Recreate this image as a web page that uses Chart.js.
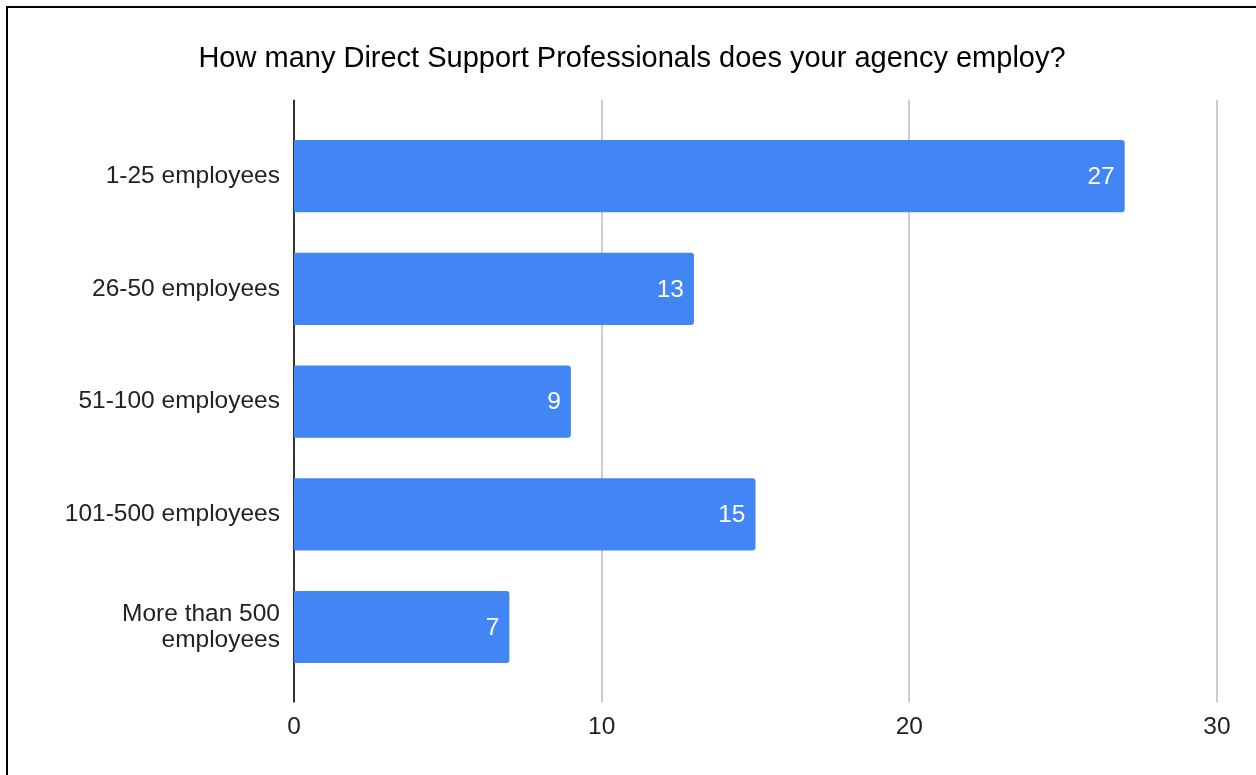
<!DOCTYPE html>
<html>
<head>
<meta charset="utf-8">
<script src="https://cdn.jsdelivr.net/npm/chart.js@4.4.0/dist/chart.umd.min.js"></script>
<style>
    html, body { margin: 0; padding: 0; background: #fff; overflow: hidden; }
    #frame {
        position: absolute; left: 6px; top: 6px;
        width: 1300px; height: 900px;
        border: 2px solid #000;
    }
    #chart { position: absolute; left: 0; top: 0; }
</style>
</head>
<body>
<div id="frame"></div>
<canvas id="chart" width="1256" height="775"></canvas>
<script>
// Data
const categories = ['1-25 employees', '26-50 employees', '51-100 employees', '101-500 employees', ['More than 500', 'employees']];
const responses = [27, 13, 9, 15, 7];
const xTicks = [0, 10, 20, 30];

const FONT = "'Liberation Sans', Arial, sans-serif";

// grid lines that run a bit past the category band, like the original
const gridPlugin = {
    id: 'longGrid',
    beforeDatasetsDraw(chart) {
        const { ctx, chartArea, scales } = chart;
        const top = chartArea.top - 20;
        const bottom = chartArea.bottom + 19;
        ctx.save();
        xTicks.forEach(v => {
            const x = Math.round(scales.x.getPixelForValue(v));
            ctx.strokeStyle = v === 0 ? '#333333' : '#cccccc';
            ctx.lineWidth = 2;
            ctx.beginPath();
            ctx.moveTo(x, top);
            ctx.lineTo(x, bottom);
            ctx.stroke();
        });
        ctx.restore();
    }
};

// value labels inside the end of each bar
const valueLabels = {
    id: 'valueLabels',
    afterDatasetsDraw(chart) {
        const { ctx } = chart;
        const meta = chart.getDatasetMeta(0);
        ctx.save();
        ctx.fillStyle = '#ffffff';
        ctx.font = '24.5px ' + FONT;
        ctx.textAlign = 'right';
        ctx.textBaseline = 'middle';
        meta.data.forEach((bar, i) => {
            ctx.fillText(String(responses[i]), bar.x - 10, bar.y + 1);
        });
        ctx.restore();
    }
};

new Chart(document.getElementById('chart'), {
    type: 'bar',
    data: {
        labels: categories,
        datasets: [{
            data: responses,
            backgroundColor: '#4285f4',
            borderRadius: 3,
            barPercentage: 0.64,
            categoryPercentage: 1
        }]
    },
    plugins: [gridPlugin, valueLabels],
    options: {
        indexAxis: 'y',
        responsive: false,
        animation: false,
        devicePixelRatio: 1,
        layout: { padding: { left: 47, right: 39, top: 0, bottom: 0 } },
        plugins: {
            legend: { display: false },
            tooltip: { enabled: false },
            title: {
                display: true,
                text: 'How many Direct Support Professionals does your agency employ?',
                color: '#000000',
                font: { family: FONT, size: 29, weight: 'normal', lineHeight: 1.2 },
                padding: { top: 42, bottom: 43 }
            }
        },
        scales: {
            x: {
                min: 0,
                max: 30,
                afterBuildTicks: scale => { scale.ticks = xTicks.map(v => ({ value: v })); },
                grid: { display: false, drawTicks: false },
                border: { display: false },
                ticks: {
                    color: '#222222',
                    padding: 29,
                    font: { family: FONT, size: 24.5 }
                },
                afterFit: scale => {
                    scale.height = 91.6;
                    scale.paddingLeft = 0;
                    scale.paddingRight = 0;
                }
            },
            y: {
                grid: { display: false, drawTicks: false },
                border: { display: false },
                ticks: {
                    color: '#222222',
                    padding: 14,
                    font: { family: FONT, size: 24.5, lineHeight: 1.05 }
                },
                afterFit: scale => { scale.width = 247; }
            }
        }
    }
});
</script>
</body>
</html>
